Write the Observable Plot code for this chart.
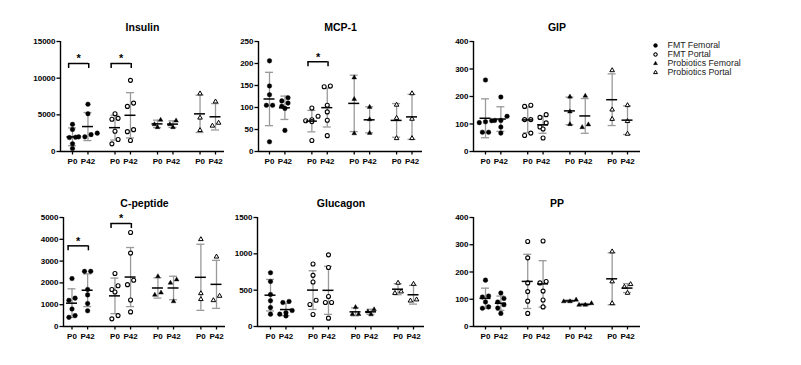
<!DOCTYPE html>
<html><head><meta charset="utf-8">
<script src="https://cdn.jsdelivr.net/npm/d3@7"></script>
<script src="https://cdn.jsdelivr.net/npm/@observablehq/plot@0.6"></script>
<style>
body{margin:0;background:#fff;}
#chart{position:relative;width:801px;height:365px;overflow:hidden;background:#fff;}
</style></head><body><div id="chart"></div><script>
// ---------- data ----------
const groups = ["FMT Femoral", "FMT Portal", "Probiotics Femoral", "Probiotics Portal"];
const timeLabels = ["P0", "P42", "P0", "P42", "P0", "P42", "P0", "P42"];
const panelNames = ["Insulin", "MCP-1", "GIP", "C-peptide", "Glucagon", "PP"];
const yMaxes = [15000, 250, 400, 5000, 1500, 400];
const yTicks = [
  [0, 5000, 10000, 15000],
  [0, 50, 100, 150, 200, 250],
  [0, 100, 200, 300, 400],
  [0, 1000, 2000, 3000, 4000, 5000],
  [0, 500, 1000, 1500],
  [0, 100, 200, 300, 400]
];
// order of series: FMT Fem P0, FMT Fem P42, FMT Portal P0, FMT Portal P42, Prob Fem P0, Prob Fem P42, Prob Portal P0, Prob Portal P42
const insulin = [
  [3700, 3000, 1950, 1900, 1050, 400],
  [6450, 5150, 2500, 2300, 2000, 2000],
  [5150, 4520, 4400, 2760, 1630, 1040],
  [9700, 6600, 6150, 2980, 2710, 1490],
  [4300, 3300, 3700],
  [4200, 3300, 3700],
  [7900, 4600, 2900],
  [6800, 3500, 3900]
];
const mcp1 = [
  [206, 149, 129, 105, 105, 22],
  [122, 115, 110, 103, 98, 48],
  [99, 80, 72, 70, 68, 25],
  [147, 149, 105, 90, 71, 36],
  [168, 119, 41],
  [101, 73, 42],
  [106, 76, 30],
  [132, 74, 30]
];
const gip = [
  [260, 112, 108, 105, 70, 70],
  [198, 128, 113, 113, 89, 67],
  [164, 168, 116, 116, 58, 67],
  [124, 134, 89, 104, 82, 49],
  [199, 145, 99],
  [202, 88, 98],
  [295, 152, 118],
  [168, 110, 64]
];
const cpeptide = [
  [2200, 1300, 1200, 800, 500, 420],
  [2530, 2530, 1700, 1450, 1050, 720],
  [2430, 1870, 1700, 1580, 500, 350],
  [4313, 3368, 2119, 1920, 1219, 670],
  [2300, 1550, 1450],
  [2150, 2000, 1150],
  [4000, 1520, 1250],
  [3200, 1400, 1200]
];
const glucagon = [
  [740, 620, 440, 355, 260, 170],
  [345, 330, 220, 190, 170, 145],
  [860, 704, 613, 361, 302, 165],
  [986, 812, 413, 330, 330, 115],
  [265, 170, 170],
  [235, 205, 165],
  [600, 480, 460],
  [585, 370, 355]
];
const pp = [
  [170, 112, 108, 90, 72, 67],
  [123, 103, 90, 80, 68, 48],
  [312, 252, 160, 128, 93, 48],
  [314, 165, 160, 130, 97, 72],
  [98, 92, 92],
  [85, 79, 79],
  [275, 165, 85],
  [155, 145, 123]
];
// significance brackets: [group index, bracket value]
const insulinSig = [[0, 12000], [1, 12000]];
const mcp1Sig = [[1, 204]];
const gipSig = [];
const cpeptideSig = [[0, 3700], [1, 4725]];
const glucagonSig = [];
const ppSig = [];

const seriesList = [insulin, mcp1, gip, cpeptide, glucagon, pp];
const sigList = [insulinSig, mcp1Sig, gipSig, cpeptideSig, glucagonSig, ppSig];

// ---------- layout ----------
const posUnits = [0, 1, 2.75, 3.75, 5.5, 6.5, 8.25, 9.25];
const layouts = [
  {axis: 60, first: 72, last: 215, end: 224, top: 40.7, bottom: 150.7},
  {axis: 258, first: 269, last: 411.5, end: 422, top: 40.7, bottom: 150.7},
  {axis: 473, first: 485, last: 627, end: 640, top: 40.7, bottom: 150.7},
  {axis: 63, first: 71.5, last: 216, end: 225, top: 216.7, bottom: 325.7},
  {axis: 257, first: 270, last: 413, end: 424, top: 216.7, bottom: 325.7},
  {axis: 473, first: 485, last: 627, end: 640, top: 216.7, bottom: 325.7}
];
const FONT = "Arial, 'Liberation Sans', sans-serif";
const symbolScale = {domain: groups, range: ["circle", "circle", "triangle", "triangle"]};

// GraphPad-like horizontal spreading of overlapping points (pixel offsets)
function spread(values, pxPerY, thresh = 4.6, gap = 6.2) {
  const order = values.map((v, i) => i).sort((a, b) => values[b] - values[a]);
  const off = new Array(values.length).fill(0);
  let row = [], start = null;
  const flush = () => {
    row.sort((a, b) => values[a] - values[b]);
    row.forEach((i, k) => off[i] = (k - (row.length - 1) / 2) * gap);
  };
  for (const i of order) {
    const y = values[i] * pxPerY;
    if (start !== null && start - y < thresh) row.push(i);
    else { if (row.length) flush(); row = [i]; start = y; }
  }
  if (row.length) flush();
  return off;
}

// marker styles per group
const markerStyle = {
  "FMT Femoral": {r: 2.3, fill: "black", strokeWidth: 0.4},
  "FMT Portal": {r: 2.0, fill: "white", strokeWidth: 1.1},
  "Probiotics Femoral": {r: 1.75, fill: "black", strokeWidth: 0.4},
  "Probiotics Portal": {r: 1.7, fill: "white", strokeWidth: 1.0}
};

const chart = document.getElementById("chart");

function makePanel(p) {
  const L = layouts[p], series = seriesList[p], yMax = yMaxes[p];
  const unit = (L.last - L.first) / 9.25;
  const ML = 40, MR = 8, MT = 36, MB = 24;
  const dmin = -(L.first - L.axis) / unit;
  const dmax = 9.25 + (L.end - L.last) / unit;
  const W = ML + (L.end - L.axis) + MR;
  const H = MT + (L.bottom - L.top) + MB;
  const pxPerY = (L.bottom - L.top) / yMax;

  const points = [];
  series.forEach((vals, k) => {
    const off = spread(vals, pxPerY);
    vals.forEach((v, i) => points.push({x: posUnits[k] + off[i] / unit, y: v, group: groups[k >> 1]}));
  });
  const stats = series.map((vals, k) => ({x: posUnits[k], mean: d3.mean(vals), sd: d3.deviation(vals)}));
  const capU = 4 / unit, meanU = 5.5 / unit;
  const sig = sigList[p].map(([g, v]) => ({x1: posUnits[2 * g] - 0.25, x2: posUnits[2 * g + 1] + 0.05, y: v}));
  const leg = 5 / pxPerY;

  const dotMarks = groups.map(g => Plot.dot(points.filter(d => d.group === g),
    {x: "x", y: "y", symbol: "group", stroke: "black", ...markerStyle[g]}));

  const svg = Plot.plot({
    width: W, height: H,
    marginLeft: ML, marginRight: MR, marginTop: MT, marginBottom: MB,
    style: {background: "transparent", overflow: "visible", fontFamily: FONT},
    x: {domain: [dmin, dmax]},
    y: {domain: [0, yMax]},
    symbol: symbolScale,
    marks: [
      // error bars (SD)
      Plot.ruleX(stats, {x: "x", y1: d => d.mean - d.sd, y2: d => d.mean + d.sd, stroke: "#9a9a9a", strokeWidth: 1.3}),
      Plot.ruleY(stats, {y: d => d.mean + d.sd, x1: d => d.x - capU, x2: d => d.x + capU, stroke: "#9a9a9a", strokeWidth: 1.3}),
      Plot.ruleY(stats, {y: d => d.mean - d.sd, x1: d => d.x - capU, x2: d => d.x + capU, stroke: "#9a9a9a", strokeWidth: 1.3}),
      // points
      ...dotMarks,
      // means
      Plot.ruleY(stats, {y: "mean", x1: d => d.x - meanU, x2: d => d.x + meanU, stroke: "black", strokeWidth: 1.5}),
      // axes
      Plot.ruleX([dmin], {y1: 0, y2: yMax, stroke: "black", strokeWidth: 1.4}),
      Plot.ruleY([0], {stroke: "black", strokeWidth: 1.4}),
      Plot.axisY(yTicks[p], {label: null, tickFormat: d => String(d), tickSize: 3.5, tickPadding: 1.5,
        fontSize: 8, fontWeight: "bold", stroke: "black", strokeWidth: 1.3}),
      Plot.axisX(posUnits, {label: null, tickFormat: d => timeLabels[posUnits.indexOf(d)], tickSize: 3.5, tickPadding: 3.5,
        fontSize: 8, fontWeight: "bold", stroke: "black", strokeWidth: 1.3}),
      // significance brackets
      Plot.ruleY(sig, {y: "y", x1: "x1", x2: "x2", stroke: "black", strokeWidth: 1.5}),
      Plot.ruleX(sig, {x: "x1", y1: d => d.y - leg, y2: "y", stroke: "black", strokeWidth: 1.5}),
      Plot.ruleX(sig, {x: "x2", y1: d => d.y - leg, y2: "y", stroke: "black", strokeWidth: 1.5}),
      Plot.text(sig, {x: d => (d.x1 + d.x2) / 2, y: "y", text: () => "*", dy: -4.6, fontSize: 11, fontWeight: "bold"}),
      // title
      Plot.text([panelNames[p]], {frameAnchor: "top", text: d => d, dy: -18.4, fontSize: 10.5, fontWeight: "bold"})
    ]
  });
  svg.style.position = "absolute";
  svg.style.left = (L.axis - ML) + "px";
  svg.style.top = (L.top - MT) + "px";
  chart.appendChild(svg);
}
for (let p = 0; p < 6; p++) makePanel(p);

// legend
const legend = Plot.plot({
  width: 150, height: 48.7,
  marginLeft: 10, marginRight: 0, marginTop: 10, marginBottom: 10,
  style: {background: "transparent", overflow: "visible", fontFamily: FONT},
  y: {type: "point", domain: groups, padding: 0, axis: null},
  symbol: symbolScale,
  marks: [
    ...groups.map(g => Plot.dot([g], {y: d => d, frameAnchor: "left", symbol: d => d, stroke: "black",
      ...markerStyle[g], r: markerStyle[g].r * 0.85})),
    Plot.text(groups, {y: d => d, frameAnchor: "left", dx: 12, text: d => d, textAnchor: "start", fontSize: 8.8, fill: "#222"})
  ]
});
legend.style.position = "absolute";
legend.style.left = "645px";
legend.style.top = "34px";
chart.appendChild(legend);
</script></body></html>
